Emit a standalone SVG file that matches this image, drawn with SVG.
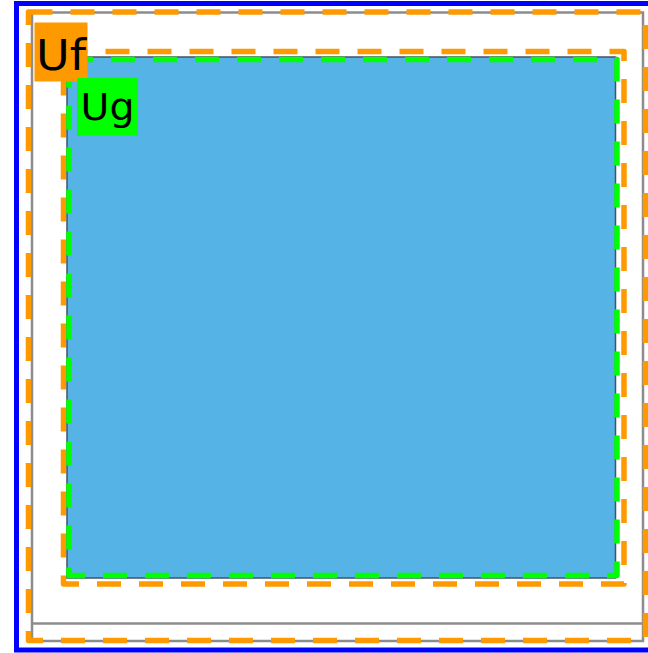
<svg xmlns="http://www.w3.org/2000/svg" width="648" height="653" viewBox="0 0 648 653">
  <style>
    .dash { fill: none; stroke-width: 5.5; stroke-dasharray: 24 18; stroke-linejoin: round; }
    .orange { stroke: #ff9900; }
    .green { stroke: #00ff00; }
    .frame { fill: none; stroke: #8c8c8c; stroke-width: 2.5; }
    .label { font-family: "DejaVu Sans", "Noto Sans", sans-serif; fill: #000000; }
  </style>
  <rect x="0" y="0" width="648" height="653" fill="#ffffff"/>
  <rect x="16.5" y="3.5" width="640" height="646.5" fill="none" stroke="#0000ff" stroke-width="5"/>
  <g id="Uf">
    <rect class="frame" x="32" y="12.5" width="611" height="628.5" fill="#fefefe"/>
    <line class="frame" x1="32" y1="623.5" x2="643" y2="623.5"/>
    <rect class="dash orange" x="28.5" y="12" width="617" height="628.5"/>
  </g>
  <g id="Ug">
    <rect class="dash orange" x="63.5" y="51.5" width="560.5" height="532.5"/>
    <rect x="67" y="57" width="548.5" height="521" fill="#55b3e6" stroke="#3f5566" stroke-width="1.5"/>
    <rect class="dash green" x="69" y="59.5" width="548" height="516"/>
  </g>
  <g id="Uf-label">
    <rect x="34.5" y="22.5" width="53" height="59" fill="#ff9900"/>
    <text class="label" x="36" y="70" font-size="43" textLength="50" lengthAdjust="spacingAndGlyphs">Uf</text>
  </g>
  <g id="Ug-label">
    <rect x="77" y="78" width="61" height="57.5" fill="#00ff00"/>
    <text class="label" x="80.5" y="120" font-size="37" textLength="54" lengthAdjust="spacingAndGlyphs">Ug</text>
  </g>
  <g id="connectors"/>
</svg>
